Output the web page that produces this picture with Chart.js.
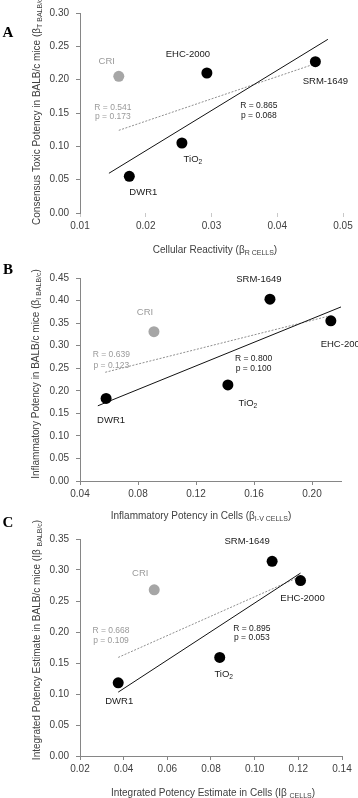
<!DOCTYPE html>
<html><head><meta charset="utf-8">
<script src="https://cdn.jsdelivr.net/npm/chart.js@4.4.1/dist/chart.umd.min.js"></script>
<style>
html,body{margin:0;padding:0;background:#fff;width:358px;height:798px;overflow:hidden;position:relative}
canvas{position:absolute;left:0}
</style></head>
<body>
<canvas id="cA" width="358" height="262" style="top:0px"></canvas>
<canvas id="cB" width="358" height="270" style="top:258px"></canvas>
<canvas id="cC" width="358" height="288" style="top:510px"></canvas>
<script>
// ---------- DATA ----------
const categories = ['CRI', 'EHC-2000', 'SRM-1649', 'TiO2', 'DWR1'];

// Panel A
const cellularReactivity = [0.0159, 0.0293, 0.0458, 0.0255, 0.0175];
const toxicPotencyMice   = [0.205, 0.210, 0.227, 0.105, 0.055];
const fitBlackA_x = [0.0144, 0.0477];
const fitBlackA_y = [0.0596, 0.2605];
const fitGrayA_x  = [0.0159, 0.0455];
const fitGrayA_y  = [0.124, 0.223];
const statsA = ['R = 0.541', 'p = 0.173', 'R = 0.865', 'p = 0.068'];
const xTicksA = [0.01, 0.02, 0.03, 0.04, 0.05];
const yTicksA = [0.00, 0.05, 0.10, 0.15, 0.20, 0.25, 0.30];

// Panel B
const inflamCells = [0.091, 0.213, 0.171, 0.142, 0.058];
const inflamMice  = [0.331, 0.355, 0.403, 0.213, 0.183];
const fitBlackB_x = [0.0523, 0.2209];
const fitBlackB_y = [0.1667, 0.387];
const fitGrayB_x  = [0.0574, 0.2104];
const fitGrayB_y  = [0.241, 0.3646];
const statsB = ['R = 0.639', 'p = 0.123', 'R = 0.800', 'p = 0.100'];
const xTicksB = [0.04, 0.08, 0.12, 0.16, 0.20];
const yTicksB = [0.00, 0.05, 0.10, 0.15, 0.20, 0.25, 0.30, 0.35, 0.40, 0.45];

// Panel C
const integCells = [0.054, 0.121, 0.108, 0.084, 0.0375];
const integMice  = [0.268, 0.283, 0.314, 0.159, 0.118];
const fitBlackC_x = [0.0375, 0.121];
const fitBlackC_y = [0.103, 0.295];
const fitGrayC_x  = [0.0375, 0.1199];
const fitGrayC_y  = [0.159, 0.288];
const statsC = ['R = 0.668', 'p = 0.109', 'R = 0.895', 'p = 0.053'];
const xTicksC = [0.02, 0.04, 0.06, 0.08, 0.10, 0.12, 0.14];
const yTicksC = [0.00, 0.05, 0.10, 0.15, 0.20, 0.25, 0.30, 0.35];

// ---------- STYLE / LAYOUT ----------
const FONT = '"Liberation Sans", Arial, sans-serif';
const SERIF = '"Liberation Serif", "Times New Roman", serif';
const GRAY_PT = '#a6a6a6';
const GRAY_TXT = '#9a9a9a';
const AXIS = '#868686';
const TICK_TXT = '#404040';

function segsFor(name) {
  if (name === 'TiO2') return [['TiO', 0], ['2', 1]];
  return [[name, 0]];
}

function drawRich(ctx, segs, x, y, size, color, rotate) {
  ctx.save();
  ctx.translate(x, y);
  if (rotate) ctx.rotate(-Math.PI / 2);
  const sub = size * 0.7;
  let total = 0;
  const ws = segs.map(s => {
    ctx.font = (s[1] ? sub : size) + 'px ' + FONT;
    const w = ctx.measureText(s[0]).width;
    total += w;
    return w;
  });
  let cx = -total / 2;
  ctx.fillStyle = color;
  ctx.textBaseline = 'middle';
  ctx.textAlign = 'left';
  segs.forEach((s, i) => {
    ctx.font = (s[1] ? sub : size) + 'px ' + FONT;
    ctx.fillText(s[0], cx, s[1] ? size * 0.3 : 0);
    cx += ws[i];
  });
  ctx.restore();
}

const panels = [
  {
    id: 'cA', letter: 'A', letterPos: [8, 33],
    xs: cellularReactivity, ys: toxicPotencyMice,
    bx: fitBlackA_x, by: fitBlackA_y, gx: fitGrayA_x, gy: fitGrayA_y,
    stats: statsA,
    statPos: [[0.0150, 0.158], [0.0150, 0.145], [0.0372, 0.161], [0.0372, 0.146]],
    labelOff: [[-12, -15], [-19, -19], [10, 20], [11, 16], [14, 16]],
    xMin: 0.01, xMax: 0.05, xStep: 0.01, xTicks: xTicksA,
    yMin: 0, yMax: 0.30, yStep: 0.05, yTicks: yTicksA,
    pad: {top: 10, right: 15}, xH: 49, xAxisLine: false,
    xTitle: [['Cellular Reactivity (β', 0], ['R CELLS', 1], [')', 0]], xTitlePos: [215, 250],
    yTitle: [['Consensus Toxic Potency in BALB/c mice (β', 0], ['T BALB/c', 1], [')', 0]], yTitlePos: [37, 110]
  },
  {
    id: 'cB', letter: 'B', letterPos: [8, 12],
    xs: inflamCells, ys: inflamMice,
    bx: fitBlackB_x, by: fitBlackB_y, gx: fitGrayB_x, gy: fitGrayB_y,
    stats: statsB,
    statPos: [[0.0616, 0.279], [0.0616, 0.255], [0.1597, 0.2706], [0.1597, 0.2484]],
    labelOff: [[-9, -19], [12, 24], [-11, -20], [20, 18], [5, 22]],
    xMin: 0.04, xMax: 0.22, xStep: 0.04, xTicks: xTicksB,
    yMin: 0, yMax: 0.45, yStep: 0.05, yTicks: yTicksB,
    pad: {top: 20, right: 17}, xH: 47, xAxisLine: true,
    xTitle: [['Inflammatory Potency in Cells (β', 0], ['I-V CELLS', 1], [')', 0]], xTitlePos: [201, 258],
    yTitle: [['Inflammatory Potency in BALB/c mice (β', 0], ['I BALB/c', 1], [')', 0]], yTitlePos: [36, 116]
  },
  {
    id: 'cC', letter: 'C', letterPos: [8, 13],
    xs: integCells, ys: integMice,
    bx: fitBlackC_x, by: fitBlackC_y, gx: fitGrayC_x, gy: fitGrayC_y,
    stats: statsC,
    statPos: [[0.0342, 0.202], [0.0342, 0.186], [0.0987, 0.205], [0.0987, 0.1906]],
    labelOff: [[-14, -16], [2, 18], [-25, -20], [4, 17], [1, 19]],
    xMin: 0.02, xMax: 0.14, xStep: 0.02, xTicks: xTicksC,
    yMin: 0, yMax: 0.35, yStep: 0.05, yTicks: yTicksC,
    pad: {top: 29, right: 16}, xH: 42, xAxisLine: true,
    xTitle: [['Integrated Potency Estimate in Cells (Iβ ', 0], ['CELLS', 1], [')', 0]], xTitlePos: [213, 283],
    yTitle: [['Integrated Potency Estimate in BALB/c mice (Iβ ', 0], ['BALB/c', 1], [')', 0]], yTitlePos: [37, 130]
  }
];

panels.forEach(P => {
  const pts = P.xs.map((x, i) => ({x: x, y: P.ys[i]}));
  const annot = {
    id: 'annot' + P.letter,
    afterDraw(chart) {
      const ctx = chart.ctx;
      const xs = chart.scales.x, ys = chart.scales.y;
      categories.forEach((name, i) => {
        const px = xs.getPixelForValue(P.xs[i]) + P.labelOff[i][0];
        const py = ys.getPixelForValue(P.ys[i]) + P.labelOff[i][1];
        drawRich(ctx, segsFor(name), px, py, 9.5, name === 'CRI' ? GRAY_TXT : '#1a1a1a', false);
      });
      P.stats.forEach((t, i) => {
        const px = xs.getPixelForValue(P.statPos[i][0]);
        const py = ys.getPixelForValue(P.statPos[i][1]);
        drawRich(ctx, [[t, 0]], px, py, 8.5, i < 2 ? GRAY_TXT : '#1a1a1a', false);
      });
      drawRich(ctx, P.xTitle, P.xTitlePos[0], P.xTitlePos[1], 10, TICK_TXT, false);
      drawRich(ctx, P.yTitle, P.yTitlePos[0], P.yTitlePos[1], 10, TICK_TXT, true);
      ctx.save();
      ctx.font = 'bold 15px ' + SERIF;
      ctx.fillStyle = '#000';
      ctx.textAlign = 'center';
      ctx.textBaseline = 'middle';
      ctx.fillText(P.letter, P.letterPos[0], P.letterPos[1]);
      ctx.restore();
    }
  };
  new Chart(document.getElementById(P.id), {
    type: 'scatter',
    data: {
      datasets: [
        {
          label: 'Nanoparticles',
          data: pts,
          pointRadius: 5.5,
          pointHoverRadius: 5.5,
          pointBackgroundColor: categories.map(c => c === 'CRI' ? GRAY_PT : '#000'),
          pointBorderColor: categories.map(c => c === 'CRI' ? GRAY_PT : '#000'),
          pointBorderWidth: 0,
          order: 1
        },
        {
          type: 'line',
          label: 'Fit (without CRI)',
          data: P.bx.map((x, i) => ({x: x, y: P.by[i]})),
          borderColor: '#111',
          borderWidth: 1,
          pointRadius: 0,
          fill: false,
          order: 2
        },
        {
          type: 'line',
          label: 'Fit (with CRI)',
          data: P.gx.map((x, i) => ({x: x, y: P.gy[i]})),
          borderColor: '#8f8f8f',
          borderWidth: 1,
          borderDash: [2, 1.5],
          pointRadius: 0,
          fill: false,
          order: 3
        }
      ]
    },
    options: {
      responsive: false,
      animation: false,
      devicePixelRatio: 1,
      layout: {padding: {left: 0, top: P.pad.top, right: P.pad.right, bottom: 0}},
      plugins: {legend: {display: false}, tooltip: {enabled: false}, title: {display: false}},
      scales: {
        x: {
          type: 'linear', min: P.xMin, max: P.xMax,
          afterFit: s => { s.height = P.xH; },
          border: {display: P.xAxisLine, color: AXIS, width: 1},
          grid: {display: true, drawOnChartArea: false, drawTicks: true, tickLength: 4,
                 color: P.xAxisLine ? AXIS : '#c8c8c8'},
          ticks: {
            stepSize: P.xStep, includeBounds: false, padding: 3, maxRotation: 0,
            color: TICK_TXT, font: {family: FONT, size: 10},
            callback: v => P.xTicks.some(t => Math.abs(t - v) < 1e-9) ? v.toFixed(2) : ''
          },
          title: {display: false}
        },
        y: {
          type: 'linear', min: P.yMin, max: P.yMax,
          afterFit: s => { s.width = 80; },
          border: {display: true, color: AXIS, width: 1},
          grid: {display: true, drawOnChartArea: false, drawTicks: true, tickLength: 4, color: AXIS},
          ticks: {
            stepSize: P.yStep, padding: 7,
            color: TICK_TXT, font: {family: FONT, size: 10},
            callback: v => P.yTicks.some(t => Math.abs(t - v) < 1e-9) ? v.toFixed(2) : ''
          },
          title: {display: false}
        }
      }
    },
    plugins: [annot]
  });
});
</script>
</body></html>
